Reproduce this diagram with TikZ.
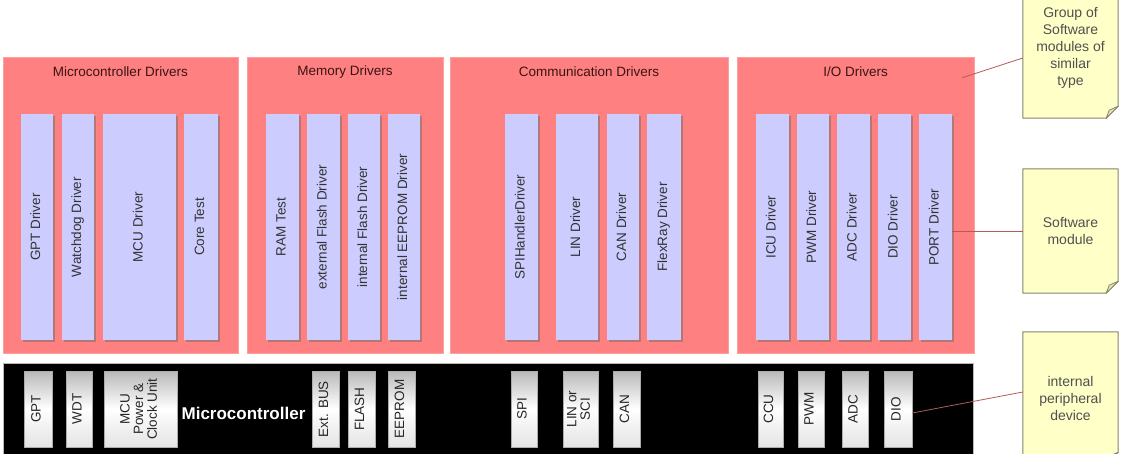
\documentclass[tikz,border=0pt]{standalone}
\usepackage{fontspec}
\setmainfont{Liberation Sans}
\usetikzlibrary{shadows,backgrounds}

\definecolor{grpred}{HTML}{FF8080}
\definecolor{grpedge}{HTML}{FFA0A0}
\definecolor{titletext}{HTML}{3A1414}
\definecolor{modfill}{HTML}{CCCCFF}
\definecolor{modtext}{HTML}{333333}
\definecolor{notefill}{HTML}{FFFFC8}
\definecolor{noteedge}{HTML}{85856C}
\definecolor{notefold}{HTML}{E6E6B0}
\definecolor{notetext}{HTML}{505050}
\definecolor{connred}{HTML}{B35A5A}

% text set upright, reading from bottom to top
\newcommand{\vtext}[1]{\rotatebox{90}{\begin{tabular}{@{}c@{}}#1\end{tabular}}}

% yellow note paper with a turned-down lower right corner
\newcommand{\notepaper}[1]{%
  \begin{pgfonlayer}{background}
    \filldraw[fill=notefill, draw=noteedge, line width=1pt, line join=round]
      (#1.north west) -- (#1.north east) -- ([yshift=12pt]#1.south east)
      -- ([xshift=-12pt]#1.south east) -- (#1.south west) -- cycle;
    \filldraw[fill=notefold, draw=noteedge, line width=0.8pt, line join=round]
      ([yshift=12pt]#1.south east) -- ([xshift=-12pt]#1.south east)
      -- ([xshift=-9pt,yshift=8pt]#1.south east) -- cycle;
  \end{pgfonlayer}}

\begin{document}
\begin{tikzpicture}[x=1pt, y=-1pt,
  grp/.style={fill=grpred, draw=grpedge, line width=0.6pt, inner sep=0pt,
    minimum height=296pt},
  grptitle/.style={font=\fontsize{13.5}{16}\selectfont, text=titletext, inner sep=0pt},
  swmod/.style={fill=modfill, inner sep=0pt, minimum height=226pt,
    font=\fontsize{13.5}{16}\selectfont, text=modtext,
    drop shadow={shadow xshift=1.6pt, shadow yshift=-1.6pt, fill=black!55, opacity=0.55}},
  mcubar/.style={fill=black, draw=gray!55, line width=0.6pt, inner sep=0pt},
  perip/.style={top color=gray!55, bottom color=gray!22, middle color=white,
    draw=gray!65, line width=0.5pt, inner sep=0pt, minimum height=76pt,
    font=\fontsize{13.5}{13.5}\selectfont, text=black!85},
  notebox/.style={inner sep=0pt, minimum width=95pt, align=center,
    font=\fontsize{14}{17}\selectfont, text=notetext},
  conn/.style={draw=connred, line width=0.8pt}
]
\useasboundingbox (0,0) rectangle (1126,453);

% groups of software modules
\node[grp, minimum width=235pt] (g1) at (120.5,205) {};
\node[grp, minimum width=196pt] (g2) at (345,205) {};
\node[grp, minimum width=278pt] (g3) at (589,205) {};
\node[grp, minimum width=237pt] (g4) at (855.5,205) {};

\node[grptitle] (t1) at (120.5,72) {Microcontroller Drivers};
\node[grptitle] (t2) at (345,72) {Memory Drivers};
\node[grptitle] (t3) at (589,72) {Communication Drivers};
\node[grptitle] (t4) at (855.5,72) {I/O Drivers};

% microcontroller drivers
\node[swmod, minimum width=32pt] (mgpt)  at (37,227)    {\vtext{GPT Driver}};
\node[swmod, minimum width=32pt] (mwdg)  at (78,227)    {\vtext{Watchdog Driver}};
\node[swmod, minimum width=73pt] (mmcu)  at (139.5,227) {\vtext{MCU Driver}};
\node[swmod, minimum width=34pt] (mcore) at (201,227)   {\vtext{Core Test}};

% memory drivers
\node[swmod, minimum width=33pt] (mram)  at (282.5,227) {\vtext{RAM Test}};
\node[swmod, minimum width=33pt] (mxfl)  at (323.5,227) {\vtext{external Flash Driver}};
\node[swmod, minimum width=32pt] (mifl)  at (364,227)   {\vtext{internal Flash Driver}};
\node[swmod, minimum width=32pt] (meep)  at (404,227)   {\vtext{internal EEPROM Driver}};

% communication drivers
\node[swmod, minimum width=33pt] (mspi)  at (521.5,227) {\vtext{SPIHandlerDriver}};
\node[swmod, minimum width=42pt] (mlin)  at (577,227)   {\vtext{LIN Driver}};
\node[swmod, minimum width=32pt] (mcan)  at (623,227)   {\vtext{CAN Driver}};
\node[swmod, minimum width=34pt] (mfr)   at (664,227)   {\vtext{FlexRay Driver}};

% I/O drivers
\node[swmod, minimum width=33pt] (micu)  at (772.5,227) {\vtext{ICU Driver}};
\node[swmod, minimum width=32pt] (mpwm)  at (813,227)   {\vtext{PWM Driver}};
\node[swmod, minimum width=33pt] (madc)  at (853.5,227) {\vtext{ADC Driver}};
\node[swmod, minimum width=33pt] (mdio)  at (894.5,227) {\vtext{DIO Driver}};
\node[swmod, minimum width=33pt] (mport) at (935.5,227) {\vtext{PORT Driver}};

% microcontroller with its internal peripherals
\node[mcubar, minimum width=970pt, minimum height=94pt] (mcu) at (488,410) {};
\node[font=\bfseries\fontsize{17}{20}\selectfont, text=white, inner sep=0pt]
  (mculbl) at (243.5,413) {Microcontroller};

\node[perip, minimum width=28pt] (pgpt)  at (38,409)    {\vtext{GPT}};
\node[perip, minimum width=26pt] (pwdt)  at (79,409)    {\vtext{WDT}};
\node[perip, minimum width=73pt] (pmcu)  at (140.5,409) {\vtext{MCU\\Power \&\\Clock Unit}};
\node[perip, minimum width=27pt] (pbus)  at (325.5,409) {\vtext{Ext. BUS}};
\node[perip, minimum width=27pt] (pfl)   at (361.5,409) {\vtext{FLASH}};
\node[perip, minimum width=27pt] (peep)  at (401.5,409) {\vtext{EEPROM}};
\node[perip, minimum width=26pt] (pspi)  at (524,409)   {\vtext{SPI}};
\node[perip, minimum width=35pt] (plin)  at (580.5,409) {\vtext{LIN or\\SCI}};
\node[perip, minimum width=27pt] (pcan)  at (626.5,409) {\vtext{CAN}};
\node[perip, minimum width=25pt] (pccu)  at (770.5,409) {\vtext{CCU}};
\node[perip, minimum width=26pt] (ppwm)  at (811,409)   {\vtext{PWM}};
\node[perip, minimum width=26pt] (padc)  at (855,409)   {\vtext{ADC}};
\node[perip, minimum width=28pt] (pdio)  at (898,409)   {\vtext{DIO}};

% legend notes
\node[notebox, minimum height=140pt] (n1) at (1070.5,48)
  {Group of\\Software\\modules of\\similar\\type};
\node[notebox, minimum height=124pt] (n2) at (1070.5,231)
  {Software\\module};
\node[notebox, minimum height=132pt] (n3) at (1070.5,398)
  {internal\\peripheral\\device};
\notepaper{n1}
\notepaper{n2}
\notepaper{n3}

% connectors from the notes
\draw[conn] ([xshift=-12pt,yshift=-21pt]g4.north east) -- ([yshift=-10pt]n1.west);
\draw[conn] (mport.east |- n2.west) -- (n2.west);
\draw[conn] ([yshift=-4pt]pdio.east) -- ([yshift=6pt]n3.west);
\end{tikzpicture}
\end{document}
